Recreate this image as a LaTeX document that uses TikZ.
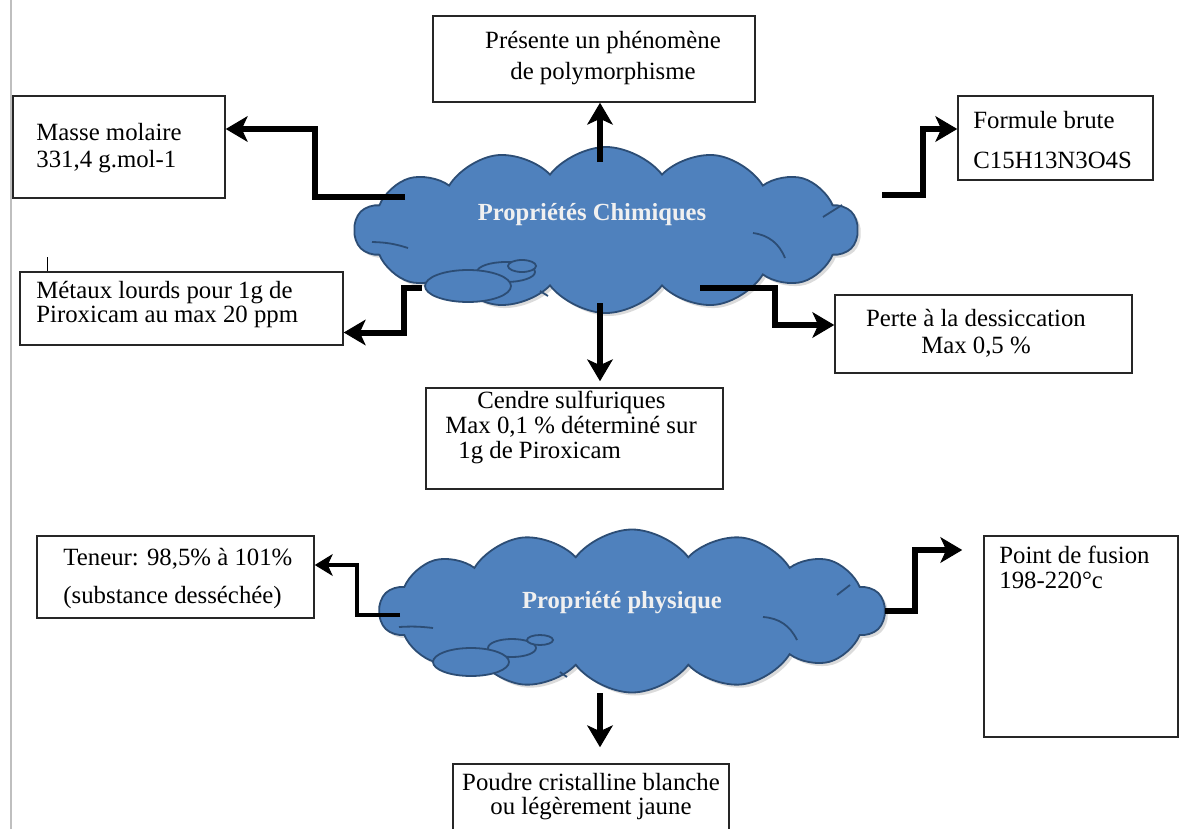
\documentclass[tikz,border=0pt]{standalone}
\usepackage{fontspec}
\setmainfont{Liberation Serif}
\usetikzlibrary{shapes.symbols,arrows.meta,positioning,calc,shadows,fit}

\definecolor{cloudfill}{RGB}{79,129,189}
\definecolor{cloudline}{RGB}{44,77,117}

\begin{document}
\begin{tikzpicture}[
        x=0.5pt, y=-0.5pt,
        font=\fontsize{12.4}{13.5}\selectfont,
        % Block styles
        propbox/.style={
            rectangle,
            draw=black!85,
            line width=0.8pt,
            fill=white,
            inner sep=0pt
        },
        boxtext/.style={
            inner sep=0pt,
            align=#1
        },
        boxtext/.default=left,
        propcloud/.style={
            cloud,
            cloud puffs=14,
            cloud puff arc=105,
            cloud ignores aspect,
            draw=cloudline,
            line width=0.9pt,
            fill=cloudfill,
            drop shadow={shadow xshift=1.5pt, shadow yshift=-1.5pt, fill=black!40, opacity=0.35}
        },
        cloudtext/.style={font=\fontsize{12.3}{14}\selectfont\bfseries, text=white!94!black},
        bubble/.style={draw=cloudline, line width=0.9pt, fill=cloudfill},
        crease/.style={draw=cloudline, line width=0.9pt},
        link/.style={line width=3pt, -{Stealth[length=11pt, width=13pt, inset=3pt, line width=0.5pt]}},
        thinlink/.style={line width=2pt, -{Stealth[length=9pt, width=11pt, inset=2.5pt, line width=0.5pt]}}
    ]

    \clip (0,0) rectangle (1183,829);
    \fill[white] (0,0) rectangle (1183,829);

    % Page edge and caret
    \draw[black!25, line width=0.6pt] (11,0) -- (11,829);
    \draw[black, line width=0.4pt] (47,257) -- (47,275);

    % Chemical properties
    \node[propcloud, minimum width=251.5pt, minimum height=83pt] (chim) at (606,230) {};
    \draw[crease] (372,242) to[bend left=8] (408,248);
    \draw[crease] (823,217) -- (842,205);
    \draw[crease] (753,233) to[bend left=30] (785,258);
    \draw[crease] (540,291) -- (548,296);
    \draw[bubble] (506,272) ellipse [x radius=29, y radius=10];
    \draw[bubble] (522,266) ellipse [x radius=14, y radius=6];
    \draw[bubble] (468,286) ellipse [x radius=43, y radius=16];
    \node[cloudtext] (chimtxt) at (592,215) {Propriétés Chimiques};

    \node[propbox, fit={(433,16) (755,102)}] (poly) {};
    \node[boxtext=center, font=\fontsize{12.4}{15.5}\selectfont] (polytxt) at (603,58) {Présente un phénomène\\de polymorphisme};

    \node[propbox, fit={(13,96) (225,198)}] (masse) {};
    \node[boxtext, anchor=west] (massetxt) at (36,148.5) {Masse molaire\\331,4 g.mol-1};

    \node[propbox, fit={(20,272) (343,345)}] (metaux) {};
    \node[boxtext, anchor=west, font=\fontsize{12.4}{12}\selectfont] (metauxtxt) at (36,305) {Métaux lourds pour 1g de\\Piroxicam au max 20 ppm};

    \node[propbox, fit={(958,96) (1153,180)}] (formule) {};
    \node[boxtext, anchor=west, font=\fontsize{12.4}{20}\selectfont] (formuletxt) at (973,140) {Formule brute\\C15H13N3O4S};

    \node[propbox, fit={(835,295) (1132,373)}] (perte) {};
    \node[boxtext=center] (pertetxt) at (976,333.5) {Perte à la dessiccation\\Max 0,5 \%};

    \node[propbox, fit={(426,388) (723,489)}] (cendre) {};
    \node[boxtext, anchor=west, font=\fontsize{12.4}{12.5}\selectfont] (cendretxt) at (445,427)
        {\hspace*{16pt}Cendre sulfuriques\\Max 0,1 \% déterminé sur\\\hspace*{6.5pt}1g de Piroxicam};

    % Physical property
    \node[propcloud, minimum width=252.5pt, minimum height=81.5pt] (phys) at (632,611) {};
    \draw[crease] (399,627) to[bend left=5] (433,628);
    \draw[crease] (837,595) -- (850,585);
    \draw[crease] (763,617) to[bend left=30] (797,640);
    \draw[crease] (560,672) -- (567,677);
    \draw[bubble] (512,648) ellipse [x radius=24, y radius=9];
    \draw[bubble] (540,640) ellipse [x radius=13, y radius=5];
    \draw[bubble] (471,662) ellipse [x radius=38, y radius=14];
    \node[cloudtext] (physfxt) at (622,603) {Propriété physique};

    \node[propbox, fit={(37,536) (314,618)}] (teneur) {};
    \node[boxtext, anchor=west, font=\fontsize{12.4}{19}\selectfont] (teneurtxt) at (63,579) {Teneur: 98,5\% à 101\%\\(substance desséchée)};

    \node[propbox, fit={(984,536) (1178,737)}] (fusion) {};
    \node[boxtext, anchor=west, font=\fontsize{12.4}{12.5}\selectfont] (fusiontxt) at (999,567.5) {Point de fusion\\198-220°c};

    \node[propbox, fit={(453,764) (729,845)}] (poudre) {};
    \node[boxtext=center, font=\fontsize{12.4}{12}\selectfont] (poudretxt) at (591,797) {Poudre cristalline blanche\\ou légèrement jaune};

    % Connections
    \draw[link] ([xshift=-3pt, yshift=34pt]chim.center) -- ([xshift=3pt]poly.south);
    \draw[link] ([xshift=-100.5pt, yshift=16.5pt]chim.center) -- ++(-90,0) |- ([yshift=9pt]masse.east);
    \draw[link] ([xshift=-92pt, yshift=-29pt]chim.center) -- ++(-18,0) |- ([yshift=-12pt]metaux.east);
    \draw[link] ([xshift=138pt, yshift=17.5pt]chim.center) -- ++(41,0) |- ([yshift=4.5pt]formule.west);
    \draw[link] ([xshift=47pt, yshift=-29pt]chim.center) -- ++(75,0) |- ([yshift=4.5pt]perte.west);
    \draw[link] ([xshift=-3pt, yshift=-36.5pt]chim.center) -- ([xshift=12.75pt, yshift=3pt]cendre.north);

    \draw[thinlink] ([xshift=-116pt, yshift=-2pt]phys.center) -- ++(-43,0) |- ([yshift=6pt]teneur.east);
    \draw[link] ([xshift=126.5pt]phys.center) -- ++(30,0) |- ([xshift=-10.5pt, yshift=43.25pt]fusion.west);
    \draw[link] ([xshift=-16pt, yshift=-41pt]phys.center) -- ([xshift=4.5pt, yshift=8pt]poudre.north);

\end{tikzpicture}
\end{document}
